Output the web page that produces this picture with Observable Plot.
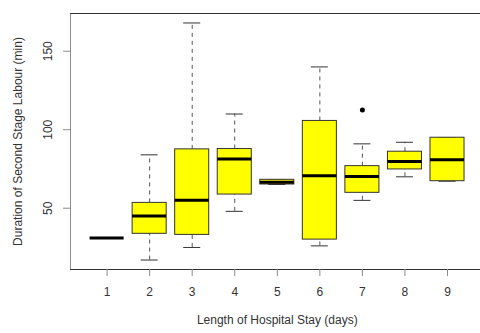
<!DOCTYPE html>
<html><head><meta charset="utf-8">
<script src="https://cdn.jsdelivr.net/npm/d3@7"></script>
<script src="https://cdn.jsdelivr.net/npm/@observablehq/plot@0.6"></script>
<style>html,body{margin:0;padding:0;background:#fff} svg{display:block}</style>
</head><body><div id="chart"></div>
<script>
const days = [1, 2, 3, 4, 5, 6, 7, 8, 9];
const lowerWhisker = [31, 17, 25, 48, 65.1, 26, 55, 70, 67.2];
const q1 = [31, 33.7, 33, 58.7, 65.1, 30, 59.8, 74.7, 67.2];
const medians = [31, 45, 55, 81.3, 66.6, 70.7, 70.2, 79.8, 80.9];
const q3 = [31, 53.4, 87.5, 87.7, 68.1, 105.6, 76.8, 86, 94.9];
const upperWhisker = [31, 84, 168, 110, 68.1, 140, 91, 92, 94.9];
const outlierDays = [7];
const outlierValues = [112.5];
const yTicks = [50, 100, 150];
const xLabel = "Length of Hospital Stay (days)";
const yLabel = "Duration of Second Stage Labour (min)";

const boxes = days.map((d, i) => ({day: d, lo: lowerWhisker[i], q1: q1[i], med: medians[i], q3: q3[i], hi: upperWhisker[i]}));
const outliers = outlierDays.map((d, i) => ({day: d, value: outlierValues[i]}));
const allVals = [...lowerWhisker, ...upperWhisker, ...outlierValues];
const [vmin, vmax] = d3.extent(allVals);
const pad = (vmax - vmin) * 0.04;
const yDomain = [vmin - pad, vmax + pad];
const xPad = days.length * 0.04;
const xDomain = [0.5 - xPad, days.length + 0.5 + xPad];

const gray = "#8c8c8c";
const dark = "#333333";
const halfBox = 0.4, halfCap = 0.2;

const chart = Plot.plot({
  width: 480,
  height: 333,
  marginLeft: 70,
  marginTop: 13,
  marginBottom: 64,
  marginRight: -3.6,
  style: {fontFamily: "Liberation Sans, Arial, sans-serif", fontSize: "12px", background: "#fff", color: dark},
  x: {domain: xDomain},
  y: {domain: yDomain},
  marks: [
    Plot.frame({stroke: gray}),
    Plot.ruleY(yDomain, {stroke: dark}),
    Plot.ruleX(boxes.filter(b => b.hi > b.q3), {x: "day", y1: "q3", y2: "hi", stroke: "#555", strokeDasharray: "4,4"}),
    Plot.ruleX(boxes.filter(b => b.lo < b.q1), {x: "day", y1: "lo", y2: "q1", stroke: "#555", strokeDasharray: "4,4"}),
    Plot.ruleY(boxes, {y: "hi", x1: d => d.day - halfCap, x2: d => d.day + halfCap, stroke: dark}),
    Plot.ruleY(boxes, {y: "lo", x1: d => d.day - halfCap, x2: d => d.day + halfCap, stroke: dark}),
    Plot.rect(boxes, {x1: d => d.day - halfBox, x2: d => d.day + halfBox, y1: "q1", y2: "q3", fill: "#ffff00", stroke: dark}),
    Plot.ruleY(boxes, {y: "med", x1: d => d.day - halfBox, x2: d => d.day + halfBox, stroke: "black", strokeWidth: 3}),
    Plot.dot(outliers, {x: "day", y: "value", r: 2.5, fill: "black", stroke: "none"}),
    Plot.axisY(yTicks, {tickSize: 7, fill: "none", stroke: gray, label: null}),
    Plot.text(yTicks, {y: d => d, text: d => String(d), frameAnchor: "left", textAnchor: "middle", lineAnchor: "middle", dx: -22, rotate: -90, fill: dark, fontSize: 12}),
    Plot.axisX(days, {tickSize: 7, tickPadding: 11, stroke: gray, fill: dark, fontSize: 12, label: null}),
    Plot.text([xLabel], {frameAnchor: "bottom", textAnchor: "middle", dy: 54, fill: dark, fontSize: 12}),
    Plot.text([yLabel], {frameAnchor: "left", textAnchor: "middle", lineAnchor: "middle", dx: -52, rotate: -90, fill: dark, fontSize: 12})
  ]
});
document.getElementById("chart").appendChild(chart);
</script>
</body></html>
